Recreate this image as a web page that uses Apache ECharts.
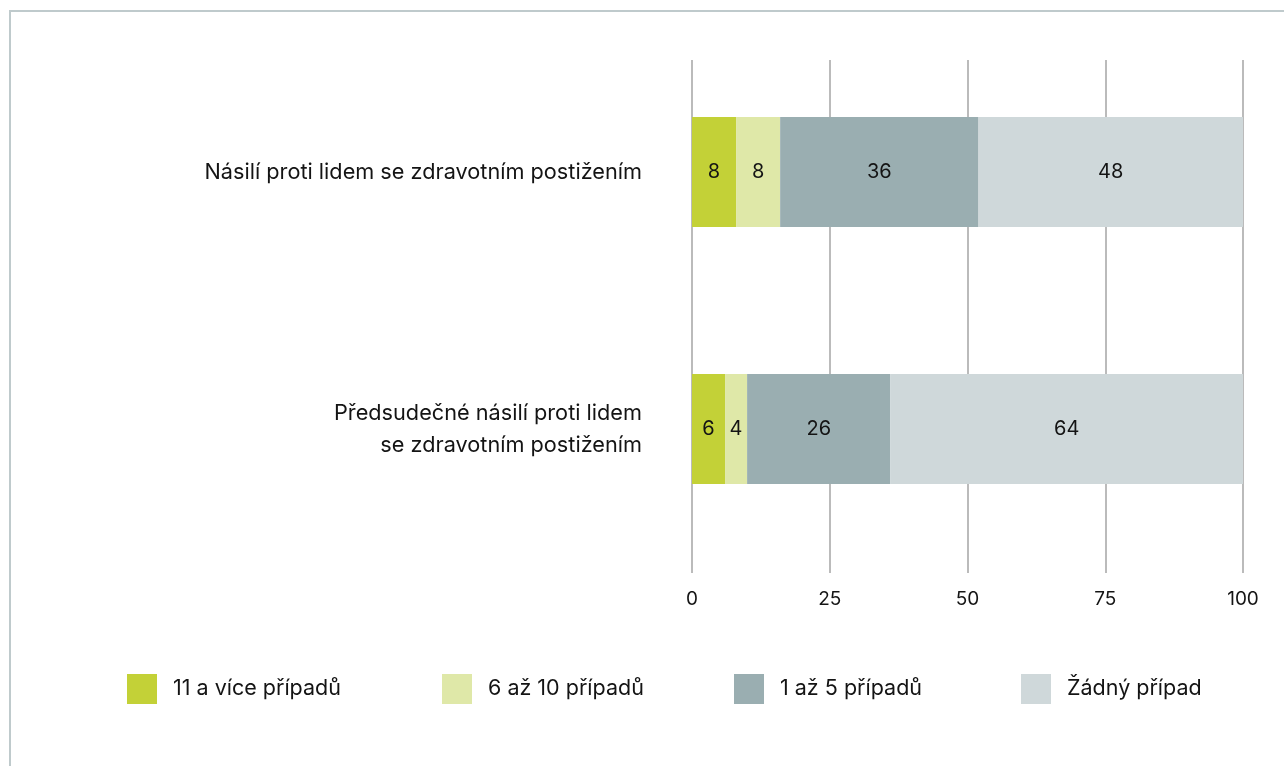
<!DOCTYPE html>
<html>
<head>
<meta charset="utf-8">
<script src="https://cdn.jsdelivr.net/npm/echarts@6/dist/echarts.min.js"></script>
<style>
  html, body { margin: 0; padding: 0; background: #fff; }
  #chart { width: 1284px; height: 766px; }
</style>
</head>
<body>
<div id="chart"></div>
<script>
const categories = [
  'Násilí proti lidem se zdravotním postižením',
  'Předsudečné násilí proti lidem\nse zdravotním postižením'
];
const seriesNames = ['11 a více případů', '6 až 10 případů', '1 až 5 případů', 'Žádný případ'];
const moreThan10 = [8, 6];
const from6to10 = [8, 4];
const from1to5 = [36, 26];
const noCase = [48, 64];
const xTicks = [0, 25, 50, 75, 100];

const colors = ['#c3d137', '#dfe8a8', '#9aaeb1', '#cfd8da'];
const legendLeft = [122, 437, 729, 1016];
const font = 'Inter, "Noto Sans", sans-serif';
const textColor = '#141414';

const chart = echarts.init(document.getElementById('chart'));

const values = [moreThan10, from6to10, from1to5, noCase];

const option = {
  animation: false,
  textStyle: { fontFamily: font },
  graphic: [{
    type: 'polyline',
    shape: { points: [[10, 766], [10, 11], [1284, 11]] },
    style: { stroke: '#bfcacc', lineWidth: 2, fill: null }
  }],
  legend: seriesNames.map((name, i) => ({
    data: [name],
    left: legendLeft[i],
    top: 669,
    icon: 'rect',
    itemWidth: 30,
    itemHeight: 30,
    selectedMode: false,
    textStyle: { fontFamily: font, fontSize: 21.5, color: textColor, padding: [0, 0, 0, 11] }
  })),
  grid: [
    { left: 692, right: 41, top: 43.5, bottom: 208.5 },
    { left: 692, right: 41, top: 60, bottom: 193 }
  ],
  xAxis: [
    {
      gridIndex: 0, type: 'value', min: 0, max: 100,
      axisLine: { show: false }, axisTick: { show: false },
      axisLabel: { show: false }, splitLine: { show: false }
    },
    {
      gridIndex: 1, type: 'value', min: 0, max: 100, interval: 25,
      axisLine: { show: false }, axisTick: { show: false },
      axisLabel: {
        margin: 17, fontSize: 19, color: textColor, fontFamily: font,
        formatter: v => xTicks.includes(v) ? String(v) : ''
      },
      splitLine: { show: true, lineStyle: { color: '#bbbbbb', width: 2 } }
    }
  ],
  yAxis: [
    {
      gridIndex: 0, type: 'category', data: categories, inverse: true,
      axisLine: { show: false }, axisTick: { show: false },
      axisLabel: { margin: 50, fontSize: 21.7, color: textColor, lineHeight: 32, fontFamily: font, align: 'right' }
    },
    {
      gridIndex: 1, type: 'category', data: categories, show: false
    }
  ],
  series: seriesNames.map((name, i) => ({
    name: name,
    type: 'bar',
    stack: 'total',
    xAxisIndex: 0,
    yAxisIndex: 0,
    barWidth: 110,
    data: values[i],
    itemStyle: { color: colors[i] },
    label: {
      show: true, position: 'inside', color: textColor,
      fontSize: 20, fontFamily: font
    }
  }))
};

chart.setOption(option);
</script>
</body>
</html>
